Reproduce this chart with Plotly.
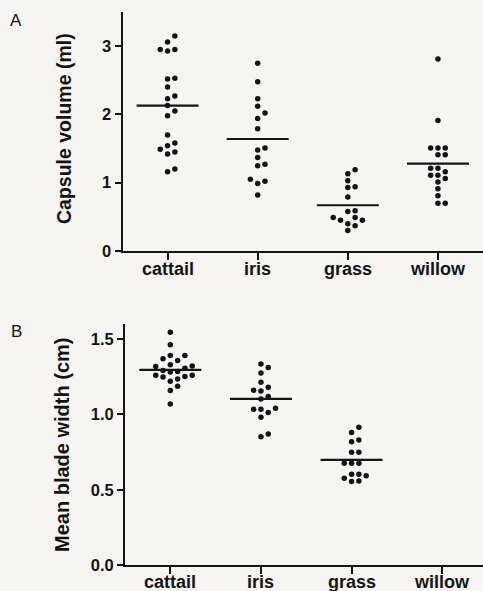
import plotly.graph_objects as go

# ---------------- data ----------------
categories = ["cattail", "iris", "grass", "willow"]

# Panel A: capsule volume (ml)
capsule_cattail = [3.15, 3.06, 2.95, 2.93, 2.95, 2.52, 2.53, 2.40, 2.27, 2.23, 2.13,
                   2.05, 1.98, 1.70, 1.58, 1.54, 1.45, 1.49, 1.42, 1.16, 1.20]
capsule_iris = [2.75, 2.48, 2.23, 2.12, 2.02, 1.94, 1.79, 1.48, 1.51, 1.37, 1.25,
                1.27, 1.02, 0.99, 1.05, 0.82]
capsule_grass = [1.13, 1.19, 1.03, 0.93, 0.94, 0.79, 0.58, 0.59, 0.49, 0.45, 0.40,
                 0.45, 0.37, 0.49, 0.30]
capsule_willow = [2.81, 1.91, 1.51, 1.51, 1.51, 1.41, 1.41, 1.21, 1.21, 1.11, 1.11,
                  1.16, 1.06, 1.01, 0.91, 0.81, 0.70, 0.70]
capsule_means = [2.13, 1.64, 0.67, 1.28]

# Panel B: mean blade width (cm)
blade_cattail = [1.546, 1.462, 1.391, 1.369, 1.391, 1.358, 1.329, 1.307, 1.322, 1.285,
                 1.281, 1.292, 1.261, 1.248, 1.236, 1.252, 1.261, 1.221, 1.188, 1.159,
                 1.070, 1.318]
blade_iris = [1.334, 1.311, 1.275, 1.214, 1.181, 1.155, 1.161, 1.119, 1.102, 1.042,
              1.013, 1.035, 1.035, 0.982, 0.853, 0.871]
blade_grass = [0.916, 0.880, 0.820, 0.831, 0.750, 0.750, 0.677, 0.677, 0.677, 0.604,
               0.577, 0.604, 0.559, 0.593, 0.555]
blade_willow = []
blade_means = [1.296, 1.104, 0.699, None]

capsule_ticks = [0, 1, 2, 3]
blade_ticks = [0.0, 0.5, 1.0, 1.5]

# ---------------- layout helpers ----------------
W, H = 483, 591
INK = "#141414"
BG = "#f6f5f1"
FONT = "Liberation Sans, Arial, sans-serif"


def beeswarm(values, px_per_unit, step_px, cat_px, diam_px=6.4):
    """Greedy column-based swarm: returns x offsets (category units)."""
    order = sorted(range(len(values)), key=lambda i: values[i])
    placed = []  # (column, ypx)
    offs = [0.0] * len(values)
    for i in order:
        ypx = values[i] * px_per_unit
        for col in [0, 1, -1, 2, -2, 3, -3]:
            if all(not (c == col and abs(ypx - yp) < diam_px) for c, yp in placed):
                placed.append((col, ypx))
                offs[i] = col * step_px / cat_px
                break
    return offs


fig = go.Figure()

# Pixel geometry of the two panels
A_top, A_bot = 12, 251
B_top, B_bot = 324, 565.3
A_left, B_left = 122.5, 125
A_range = [0, 3.5]
B_range = [0, 1.6]
A_xr = [-0.5, 3.5]
B_xr = [-0.5, 3.45]
A_label_y, B_label_y = 269, 582

A_ppu = (A_bot - A_top) / (A_range[1] - A_range[0])
B_ppu = (B_bot - B_top) / (B_range[1] - B_range[0])
A_cat = (W - A_left) / (A_xr[1] - A_xr[0])
B_cat = (W - B_left) / (B_xr[1] - B_xr[0])

panels = [
    ("x", "y", [capsule_cattail, capsule_iris, capsule_grass, capsule_willow],
     capsule_means, A_ppu, A_cat),
    ("x2", "y2", [blade_cattail, blade_iris, blade_grass, blade_willow],
     blade_means, B_ppu, B_cat),
]

for xa, ya, groups, means, ppu, catpx in panels:
    for ci, vals in enumerate(groups):
        if not vals:
            continue
        offs = beeswarm(vals, ppu, 7.3, catpx)
        fig.add_trace(go.Scatter(
            x=[ci + o for o in offs], y=vals, mode="markers",
            marker=dict(size=5.5, color=INK, line=dict(width=0)),
            xaxis=xa, yaxis=ya, showlegend=False, hoverinfo="y"))
        m = means[ci]
        if m is not None:
            hw = 31 / catpx
            fig.add_trace(go.Scatter(
                x=[ci - hw, ci + hw], y=[m, m], mode="lines",
                line=dict(color=INK, width=2.2),
                xaxis=xa, yaxis=ya, showlegend=False, hoverinfo="skip"))

axis_common = dict(showgrid=False, zeroline=False, showline=True, linecolor=INK,
                   linewidth=2, ticks="outside", tickcolor=INK, tickwidth=1.6,
                   color=INK, automargin=False)

xtick_font = dict(family=FONT, size=18, color=INK, weight="bold")
ytick_font = dict(family=FONT, size=16.5, color=INK, weight="bold")

annotations = [
    dict(text="A", x=16 / W, y=1 - 21 / H, xref="paper", yref="paper",
         xanchor="center", yanchor="middle",
         showarrow=False, font=dict(family=FONT, size=17, color=INK)),
    dict(text="B", x=16.5 / W, y=1 - 331 / H, xref="paper", yref="paper",
         xanchor="center", yanchor="middle",
         showarrow=False, font=dict(family=FONT, size=17, color=INK)),
    dict(text="Capsule volume (ml)", x=64 / W, y=1 - 129 / H, xref="paper",
         yref="paper", showarrow=False, textangle=-90,
         xanchor="center", yanchor="middle",
         font=dict(family=FONT, size=19.5, color=INK, weight="bold")),
    dict(text="Mean blade width (cm)", x=62 / W, y=1 - 445 / H, xref="paper",
         yref="paper", showarrow=False, textangle=-90,
         xanchor="center", yanchor="middle",
         font=dict(family=FONT, size=20, color=INK, weight="bold")),
]
# category labels under each panel
for xref, ly in (("x", A_label_y), ("x2", B_label_y)):
    for ci, cat in enumerate(categories):
        annotations.append(dict(
            text=cat, x=ci, xref=xref, y=1 - ly / H, yref="paper",
            xanchor="center", yanchor="middle", showarrow=False,
            font=xtick_font))

fig.update_layout(
    width=W, height=H,
    margin=dict(l=0, r=0, t=0, b=0, autoexpand=False),
    showlegend=False,
    paper_bgcolor=BG, plot_bgcolor=BG,
    xaxis=dict(axis_common, domain=[A_left / W, 1], range=A_xr,
               tickvals=list(range(len(categories))), showticklabels=False,
               ticklen=7, anchor="y"),
    yaxis=dict(axis_common, domain=[1 - A_bot / H, 1 - A_top / H], range=A_range,
               tickvals=capsule_ticks, ticktext=[str(t) for t in capsule_ticks],
               ticklen=6, tickfont=ytick_font, anchor="x"),
    xaxis2=dict(axis_common, domain=[B_left / W, 1], range=B_xr,
                tickvals=list(range(len(categories))), showticklabels=False,
                ticklen=7, anchor="y2"),
    yaxis2=dict(axis_common, domain=[1 - B_bot / H, 1 - B_top / H], range=B_range,
                tickvals=blade_ticks, ticktext=[f"{t:.1f}" for t in blade_ticks],
                ticklen=6, tickfont=ytick_font, anchor="x2"),
    annotations=annotations,
)

fig.write_html(
    "out.html",
    config={"displayModeBar": False},
    post_script="document.body.style.margin='0';document.body.style.overflow='hidden';",
)
